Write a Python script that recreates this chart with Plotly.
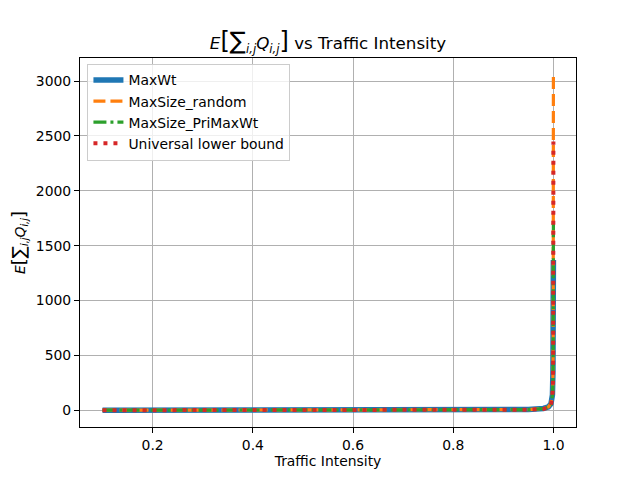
import plotly.graph_objects as go

traffic = [0.1, 0.2, 0.3, 0.4, 0.5, 0.6, 0.7, 0.8, 0.9, 0.95, 0.98, 0.99, 0.995, 0.998, 0.999, 0.9995, 0.9999]
maxwt = [0.05, 0.1, 0.2, 0.3, 0.4, 0.6, 0.9, 1.5, 3.2, 6.5, 16, 31, 58, 140, 360, 640, 1370]
maxsize_random = [0.05, 0.1, 0.15, 0.25, 0.35, 0.5, 0.8, 1.3, 2.9, 6.0, 15, 30, 62, 155, 310, 620, 3058]
maxsize_primaxwt = [0.04, 0.08, 0.14, 0.22, 0.32, 0.46, 0.72, 1.2, 2.7, 5.6, 14, 28, 55, 135, 275, 540, 1700]
lower_bound = [0.03, 0.06, 0.1, 0.16, 0.25, 0.37, 0.57, 0.98, 2.2, 4.7, 12, 24, 49, 122, 245, 490, 2450]

fig = go.Figure()
fig.add_trace(go.Scatter(x=traffic, y=maxwt, mode="lines", name="MaxWt",
                         line=dict(color="#1f77b4", width=5.5)))
fig.add_trace(go.Scatter(x=traffic, y=maxsize_random, mode="lines", name="MaxSize_random",
                         line=dict(color="#ff7f0e", width=3.2, dash="12px,5px")))
fig.add_trace(go.Scatter(x=traffic, y=maxsize_primaxwt, mode="lines", name="MaxSize_PriMaxWt",
                         line=dict(color="#2ca02c", width=3.2, dash="13px,4px,3px,4px")))
fig.add_trace(go.Scatter(x=traffic, y=lower_bound, mode="lines", name="Universal lower bound",
                         line=dict(color="#d62728", width=4, dash="4px,6px")))

axis_common = dict(showline=True, linecolor="black", linewidth=1.1, mirror=True,
                   ticks="outside", ticklen=5, tickwidth=1.1, tickcolor="black",
                   showgrid=True, gridcolor="#b0b0b0", gridwidth=1.1, zeroline=False,
                   automargin=False,
                   tickfont=dict(family="DejaVu Sans", size=13.9, color="black"))

title_math = ("<i>E</i><span style='font-size:24px'>[∑</span>"
              "<sub><i>i,j</i></sub><i>Q</i><sub><i>i,j</i></sub>"
              "<span style='font-size:24px'>]</span>")
ylab_math = ("<i>E</i><span style='font-size:18px'>[∑</span>"
             "<sub><i>i,j</i></sub><i>Q</i><sub><i>i,j</i></sub>"
             "<span style='font-size:18px'>]</span>")

fig.update_layout(
    width=640, height=480,
    margin=dict(l=80, r=64, t=57.6, b=52.8, autoexpand=False),
    paper_bgcolor="white", plot_bgcolor="white",
    font=dict(family="DejaVu Sans", color="black"),
    title=dict(text=title_math + " vs Traffic Intensity",
               x=0.5, xref="paper", xanchor="center", y=0.91, yanchor="middle",
               font=dict(family="DejaVu Sans", size=16.7, color="black")),
    xaxis=dict(range=[0.055, 1.045], tickvals=[0.2, 0.4, 0.6, 0.8, 1.0],
               ticktext=["0.2", "0.4", "0.6", "0.8", "1.0"],
               title=dict(text="Traffic Intensity", font=dict(size=13.9), standoff=4),
               **axis_common),
    yaxis=dict(range=[-153, 3211], tickvals=[0, 500, 1000, 1500, 2000, 2500, 3000],
               title=dict(text=ylab_math, font=dict(size=13.9), standoff=6),
               **axis_common),
    legend=dict(x=0.015, y=0.985, xanchor="left", yanchor="top",
                bgcolor="rgba(255,255,255,0.8)", bordercolor="#cccccc", borderwidth=1,
                font=dict(family="DejaVu Sans", size=13.9, color="black"),
                itemwidth=30, tracegroupgap=0),
    showlegend=True,
)

fig.write_html("out.html", config={"displayModeBar": False},
               post_script="document.body.style.margin='0';")
